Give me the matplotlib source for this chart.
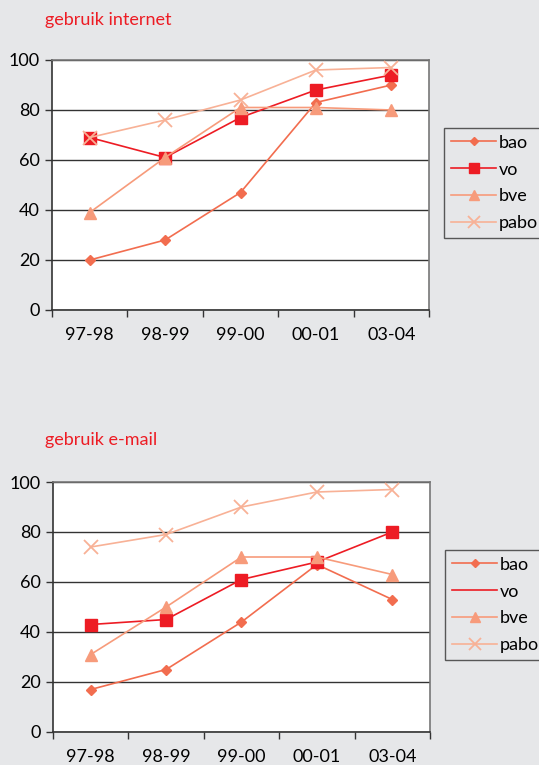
import matplotlib.pyplot as plt
import numpy as np

plt.rcParams['font.family'] = ['Lato', 'DejaVu Sans']

jaren = ['97-98', '98-99', '99-00', '00-01', '03-04']
reeksen = ['bao', 'vo', 'bve', 'pabo']

internet_bao = [20, 28, 47, 83, 90]
internet_vo = [69, 61, 77, 88, 94]
internet_bve = [39, 61, 81, 81, 80]
internet_pabo = [69, 76, 84, 96, 97]

email_bao = [17, 25, 44, 67, 53]
email_vo = [43, 45, 61, 68, 80]
email_bve = [31, 50, 70, 70, 63]
email_pabo = [74, 79, 90, 96, 97]

kleuren = {'bao': '#f26d4f', 'vo': '#ed1c24', 'bve': '#f79b7b', 'pabo': '#f8b196'}
markers = {'bao': 'D', 'vo': 's', 'bve': '^', 'pabo': 'x'}
msizes = {'bao': 5, 'vo': 9, 'bve': 8, 'pabo': 10}
achtergrond = '#e6e7e9'


def paneel(fig, rect, titel, titel_y, data, vo_marker=True):
    ax = fig.add_axes(rect)
    ax.set_facecolor('white')
    x = np.arange(len(jaren))
    lijnen = []
    for naam, waarden in zip(reeksen, data):
        m = markers[naam]
        if naam == 'vo' and not vo_marker:
            # in de legenda staat geen marker, in de grafiek wel
            ax.plot(x, waarden, color=kleuren[naam], marker=m, ms=msizes[naam], lw=1.2, zorder=3)
            l, = ax.plot([], [], color=kleuren[naam], lw=1.2)
        else:
            l, = ax.plot(x, waarden, color=kleuren[naam], marker=m, ms=msizes[naam],
                         mew=1.3 if m == 'x' else 1, lw=1.2, zorder=3)
        lijnen.append(l)
    ax.set_xlim(-0.5, len(jaren) - 0.5)
    ax.set_ylim(0, 100)
    ax.set_yticks([0, 20, 40, 60, 80, 100])
    ax.set_xticks(np.arange(-0.5, len(jaren), 1.0))
    ax.set_xticklabels([])
    ax.set_xticks(x, minor=True)
    ax.set_xticklabels(jaren, minor=True)
    ax.tick_params(axis='x', which='minor', length=0, labelsize=13, pad=12)
    ax.tick_params(axis='x', which='major', length=5, width=1, color='#333333')
    ax.tick_params(axis='y', length=5, width=1, color='#333333', labelsize=13, pad=4)
    ax.yaxis.grid(True, color='#333333', lw=1)
    ax.set_axisbelow(True)
    ax.spines['left'].set_color('#333333')
    ax.spines['bottom'].set_color('#333333')
    ax.spines['top'].set_color('#777777')
    ax.spines['right'].set_color('#777777')
    for s in ax.spines.values():
        s.set_linewidth(1.2)
    fig.text(45 / 539, titel_y, titel, color='#ed1c24', fontsize=13, va='center')
    leg = ax.legend(lijnen, reeksen, loc='upper left', bbox_to_anchor=(1.04, 0.73),
                    frameon=True, fancybox=False, fontsize=13, handlelength=2.5,
                    handletextpad=0.15, borderpad=0.4, labelspacing=0.6,
                    borderaxespad=0, markerscale=0.85)
    leg.get_frame().set_facecolor(achtergrond)
    leg.get_frame().set_edgecolor('#333333')
    leg.get_frame().set_linewidth(1)
    return ax


fig = plt.figure(figsize=(5.39, 7.65), dpi=100)
fig.patch.set_facecolor(achtergrond)

W, H = 539, 765
paneel(fig, [52 / W, 1 - 310 / H, 377 / W, 250 / H], 'gebruik internet', 1 - 20 / H,
       [internet_bao, internet_vo, internet_bve, internet_pabo])
paneel(fig, [53 / W, 1 - 732 / H, 377 / W, 250 / H], 'gebruik e-mail', 1 - 440 / H,
       [email_bao, email_vo, email_bve, email_pabo], vo_marker=False)

fig.savefig('out.png', dpi=100, facecolor=fig.get_facecolor())
